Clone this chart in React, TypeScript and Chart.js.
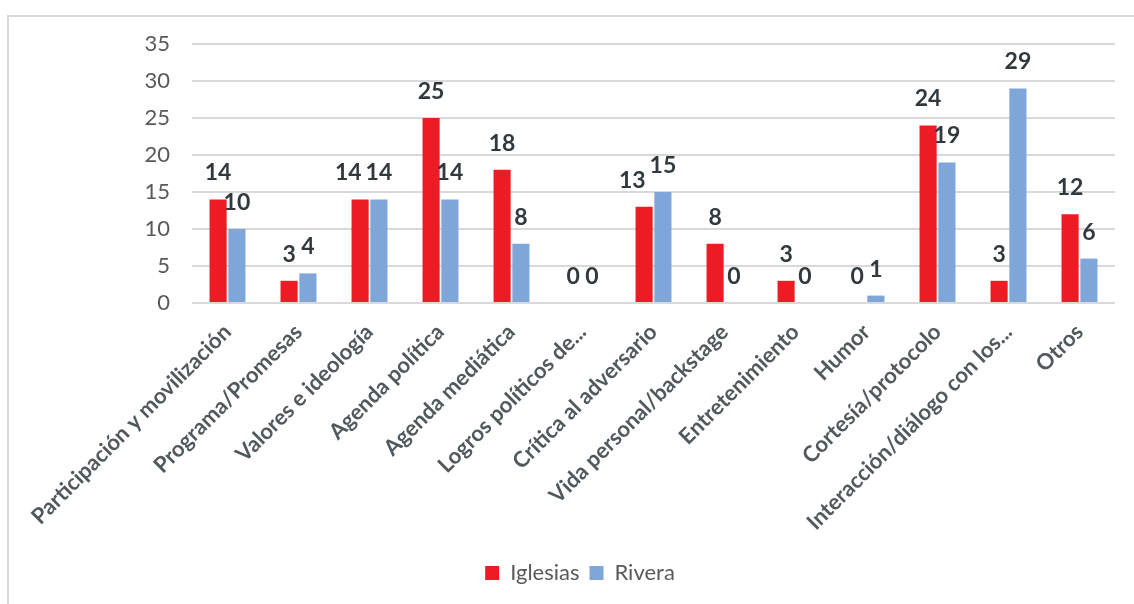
import React, { useEffect, useRef } from "react";
import { Chart, registerables } from "chart.js";

Chart.register(...registerables);

const categories = [
  "Participación y movilización",
  "Programa/Promesas",
  "Valores e ideología",
  "Agenda política",
  "Agenda mediática",
  "Logros políticos de...",
  "Crítica al adversario",
  "Vida personal/backstage",
  "Entretenimiento",
  "Humor",
  "Cortesía/protocolo",
  "Interacción/diálogo con los...",
  "Otros",
];
const iglesias = [14, 3, 14, 25, 18, 0, 13, 8, 3, 0, 24, 3, 12];
const rivera = [10, 4, 14, 14, 8, 0, 15, 0, 0, 1, 19, 29, 6];
const yTicks = [0, 5, 10, 15, 20, 25, 30, 35];

const FONT = "Lato, 'Noto Sans', sans-serif";
const LABEL_FONT = "bold 23px " + FONT;
const LABEL_GAP = 19;
const LABEL_H = 17;

const frameAndLabels = {
  id: "frameAndLabels",
  beforeDraw(chart: any) {
    const ctx = chart.ctx;
    ctx.save();
    ctx.fillStyle = "#ffffff";
    ctx.fillRect(0, 0, chart.width, chart.height);
    ctx.strokeStyle = "#d9d9d9";
    ctx.lineWidth = 2;
    ctx.beginPath();
    ctx.moveTo(8, chart.height + 2);
    ctx.lineTo(8, 16);
    ctx.lineTo(chart.width + 2, 16);
    ctx.stroke();
    ctx.restore();
  },
  afterDatasetsDraw(chart: any) {
    const ctx = chart.ctx;
    ctx.save();
    ctx.font = LABEL_FONT;
    ctx.fillStyle = "#2f393e";
    ctx.textAlign = "center";
    ctx.textBaseline = "alphabetic";
    const m0 = chart.getDatasetMeta(0);
    const m1 = chart.getDatasetMeta(1);
    const d0 = chart.data.datasets[0].data;
    const d1 = chart.data.datasets[1].data;
    for (let j = 0; j < d0.length; j++) {
      const e0 = m0.data[j];
      const e1 = m1.data[j];
      const t0 = String(d0[j]);
      const t1 = String(d1[j]);
      const w0 = ctx.measureText(t0).width;
      const w1 = ctx.measureText(t1).width;
      let x0 = e0.x;
      const x1 = e1.x;
      const y0 = e0.y - LABEL_GAP;
      const y1 = e1.y - LABEL_GAP;
      // simple collision avoidance: push first label left when boxes overlap
      if (Math.abs(y0 - y1) < LABEL_H + 2) {
        const overlap = x0 + w0 / 2 - (x1 - w1 / 2);
        if (overlap > 0) x0 -= overlap + 4;
      }
      ctx.fillText(t0, x0, y0);
      ctx.fillText(t1, x1, y1);
    }
    ctx.restore();
  },
};

export default function App() {
  const ref = useRef<HTMLCanvasElement>(null);
  useEffect(() => {
    if (!ref.current) return;
    const chart = new Chart(ref.current, {
      type: "bar",
      data: {
        labels: categories,
        datasets: [
          {
            label: "Iglesias",
            data: iglesias,
            backgroundColor: "#ed1c24",
            categoryPercentage: 0.53,
            barPercentage: 0.91,
          },
          {
            label: "Rivera",
            data: rivera,
            backgroundColor: "#7fa6d9",
            categoryPercentage: 0.53,
            barPercentage: 0.91,
          },
        ],
      },
      options: {
        responsive: false,
        animation: false,
        devicePixelRatio: 1,
        layout: { padding: { left: 45, right: 19, top: 44, bottom: 10 } },
        plugins: {
          tooltip: { enabled: false },
          legend: {
            position: "bottom",
            labels: {
              boxWidth: 14,
              boxHeight: 14,
              padding: 10,
              color: "#595959",
              font: { family: FONT, size: 22 },
            },
          },
        },
        scales: {
          x: {
            grid: { display: false, drawTicks: false },
            border: { display: false },
            ticks: {
              autoSkip: false,
              maxRotation: 45,
              minRotation: 45,
              padding: 16,
              color: "#50595e",
              font: { family: FONT, size: 22, weight: "bold" },
            },
            afterFit: (s: any) => {
              s.height = 249;
            },
          },
          y: {
            min: 0,
            max: 35,
            afterBuildTicks: (s: any) => {
              s.ticks = yTicks.map((v) => ({ value: v }));
            },
            grid: { color: "#d9d9d9", lineWidth: 2, drawTicks: false },
            border: { display: false },
            ticks: {
              padding: 22,
              color: "#595959",
              font: { family: FONT, size: 22 },
            },
            afterFit: (s: any) => {
              s.width = 147;
            },
          },
        },
      },
      plugins: [frameAndLabels],
    });
    return () => chart.destroy();
  }, []);
  return (
    <div
      style={{
        position: "fixed",
        left: 0,
        top: 0,
        width: 1134,
        height: 604,
        overflow: "hidden",
        background: "#fff",
      }}
    >
      <canvas ref={ref} width={1134} height={604} style={{ display: "block" }} />
    </div>
  );
}
